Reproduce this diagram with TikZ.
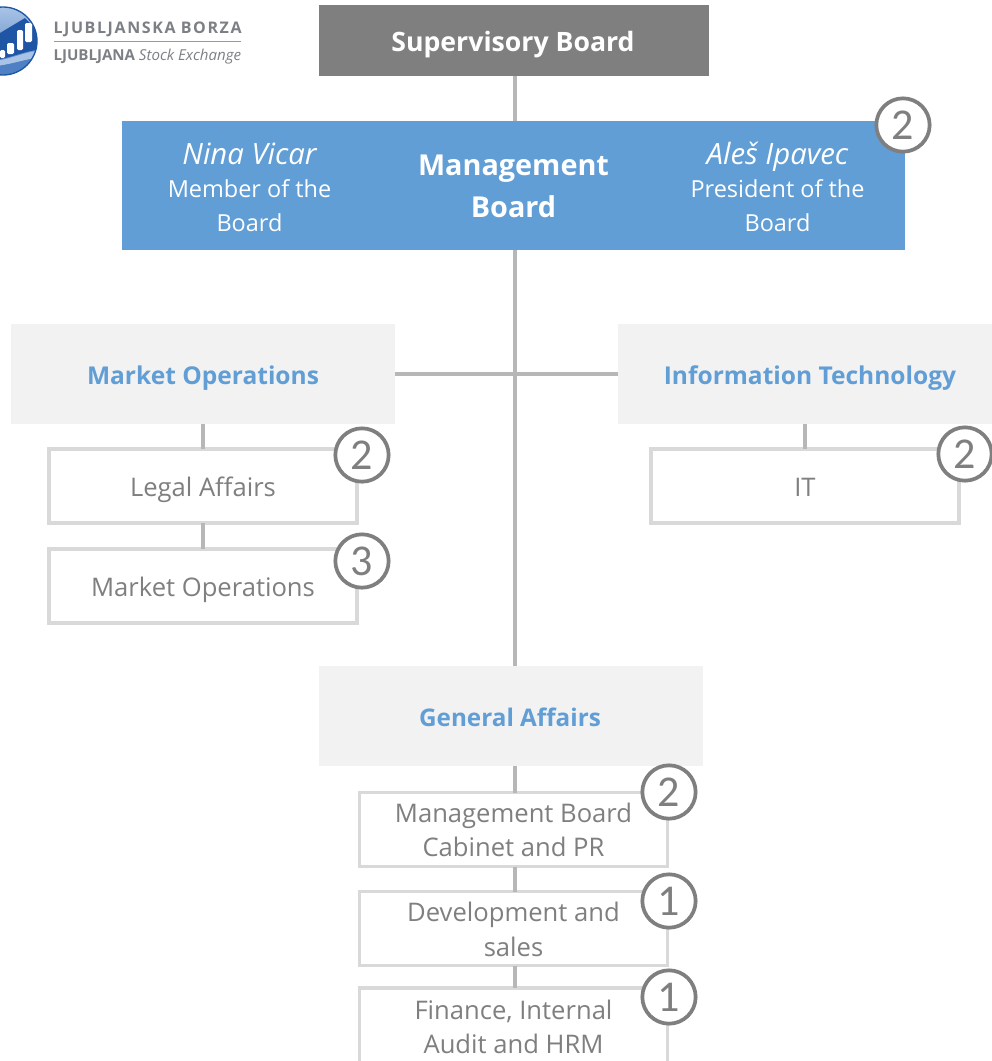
\documentclass[tikz,border=0pt]{standalone}
\usepackage{fontspec}
\setmainfont{Open Sans}
\newfontfamily\digitfont{Carlito}
\definecolor{boardgray}{HTML}{7F7F7F}
\definecolor{boardblue}{HTML}{619ED6}
\definecolor{headfill}{HTML}{F2F2F2}
\definecolor{linegray}{HTML}{B7B7B7}
\definecolor{unitline}{HTML}{D9D9D9}
\definecolor{unittext}{HTML}{7F7F7F}
\definecolor{logoblue}{HTML}{1F55A5}
\definecolor{logomid}{HTML}{4F80C4}
\definecolor{logolight}{HTML}{A9C3E6}
\definecolor{logotext}{HTML}{7C8085}
\newcommand{\fs}[2]{\fontsize{#1}{#2}\selectfont}
\tikzset{
  box/.style={rectangle,inner sep=0pt,outer sep=0pt,align=center},
  oneline/.style={text height=15pt,text depth=0pt},
  head/.style={box,fill=headfill,text=boardblue,font=\fs{18.4}{26}\bfseries},
  unit/.style={box,draw=unitline,line width=2.8pt,fill=white,text=unittext,minimum width=231pt,minimum height=55.5pt,font=\fs{19.2}{26}},
  conn/.style={draw=linegray,line width=2.8pt},
  badge/.style={circle,draw=boardgray,line width=2.8pt,fill=white,text=unittext,minimum size=40pt,inner sep=0pt,font=\digitfont\fs{33}{33}},
  boardtext/.style={box,text=white,font=\fs{17.6}{26}},
  logoname/.style={inner sep=0pt,outer sep=0pt,text=logotext,anchor=west}
}
\begin{document}
\begin{tikzpicture}[x=0.75pt,y=-0.75pt]
\useasboundingbox (0,0) rectangle (992,1061);
\clip (0,0) rectangle (992,1061);
\coordinate (trunk) at (515,0);
\node[box,minimum width=292.5pt,minimum height=53.25pt,fill=boardgray] (sup) at (514,40.5) {};
\node[box,oneline,text=white,font=\fs{20}{26}\bfseries] (supl) at (513,41.5) {Supervisory Board};
\node[box,minimum width=587.25pt,minimum height=96.75pt,fill=boardblue] (mgmt) at (513.5,185.5) {};
\node[head,oneline,minimum width=288pt,minimum height=75pt] (mops) at (203,374) {Market Operations};
\node[head,minimum width=280.5pt,minimum height=75pt] (itech) at (805,374) {};
\node[box,oneline,text=boardblue,font=\fs{18.4}{26}\bfseries] (itechl) at (810,374.5) {Information Technology};
\node[head,minimum width=288pt,minimum height=75pt] (gen) at (511,716) {};
\node[box,oneline,text=boardblue,font=\fs{18.2}{26}\bfseries] (genl) at (510,716) {General Affairs};
\draw[conn] (sup.south -| trunk) -- (mgmt.north -| trunk);
\draw[conn] (mgmt.south -| trunk) -- (gen.north -| trunk);
\draw[conn] (mops.east) -- (itech.west);
\node[unit,oneline] (legal) at (203,486) {Legal Affairs};
\node[unit,oneline] (mkt) at (203,586) {Market Operations};
\node[unit,oneline] (it) at (805,486) {IT};
\node[unit] (cab) at (513.5,829.5) {};
\node[box,text=unittext,font=\fs{19.2}{26}] (cabl) at (513.5,830) {Management Board\\Cabinet and PR};
\node[unit] (dev) at (513.5,928.5) {};
\node[box,text=unittext,font=\fs{19.2}{26}] (devl) at (513.5,929.5) {Development and\\sales};
\node[unit,minimum height=72pt] (fin) at (513.5,1036) {};
\node[box,text=unittext,font=\fs{19.2}{26}] (finl) at (513.5,1027) {Finance, Internal\\Audit and HRM};
\draw[conn] (mops.south -| legal) -- (legal.north);
\draw[conn] (legal.south) -- (mkt.north);
\draw[conn] (itech.south) -- (it.north);
\draw[conn] (gen.south -| trunk) -- (cab.north -| trunk);
\draw[conn] (cab.south -| trunk) -- (dev.north -| trunk);
\draw[conn] (dev.south -| trunk) -- (fin.north -| trunk);
\node[box,text=white,font=\fs{21.6}{31.5}\bfseries] (mgmtl) at (513.5,186.5) {Management\\Board};
\node[box,oneline,text=white,font=\fs{22}{26}\itshape] (nina) at (249.5,154) {Nina Vicar};
\node[boardtext] (ninar) at (249.5,205.5) {Member of the\\Board};
\node[box,oneline,text=white,font=\fs{22}{26}\itshape] (ales) at (777.5,154) {Aleš Ipavec};
\node[boardtext] (alesr) at (777.5,205.5) {President of the\\Board};
\node[badge] (b1) at (903,125) {2};
\node[badge] (b2) at (362,455) {2};
\node[badge] (b3) at (362,561) {3};
\node[badge] (b4) at (965,454) {2};
\node[badge] (b5) at (669,792) {2};
\node[badge] (b6) at (669,901) {1};
\node[badge] (b7) at (669,997) {1};
% logo
\begin{scope}
\clip (3,41) circle[radius=34];
\shade[top color=logolight,bottom color=logomid] (-31,7) rectangle (37,75);
\fill[logoblue] (-31,40) -- (0,33) -- (25,18) -- (37,30) -- (37,50) .. controls (20,52) and (10,60) .. (-31,64) -- cycle;
\fill[logolight] (37,51) .. controls (20,53) and (10,61) .. (-31,65) -- (-31,68) .. controls (5,68) and (20,60) .. (37,58) -- cycle;
\fill[logomid] (-31,68) .. controls (5,68) and (20,60) .. (37,58) -- (37,75) -- (-31,75) -- cycle;
\end{scope}
\draw[logoblue,line width=1pt] (3,41) circle[radius=34];
\fill[white,rounded corners=1pt] (0,50) rectangle (5,58);
\fill[white,rounded corners=1pt] (7,43) rectangle (14,54);
\fill[white,rounded corners=1pt] (17,30) rectangle (23,50);
\fill[white,rounded corners=1pt] (25,23) rectangle (32,42);
\node[logoname,font=\fs{12}{11}\bfseries] (lb) at (53.5,29) {L\kern1.2pt J\kern1.2pt U\kern1.2pt B\kern1.2pt L\kern1.2pt J\kern1.2pt A\kern1.2pt N\kern1.2pt S\kern1.2pt K\kern1.2pt A\kern4pt B\kern1.2pt O\kern1.2pt R\kern1.2pt Z\kern1.2pt A};
\fill[logotext!80] (53.5,41) rectangle (241,42);
\node[logoname,font=\fs{11.3}{11}] (ls) at (53.5,56.5) {\textbf{LJUBLJANA} \textit{Stock Exchange}};
\end{tikzpicture}
\end{document}
